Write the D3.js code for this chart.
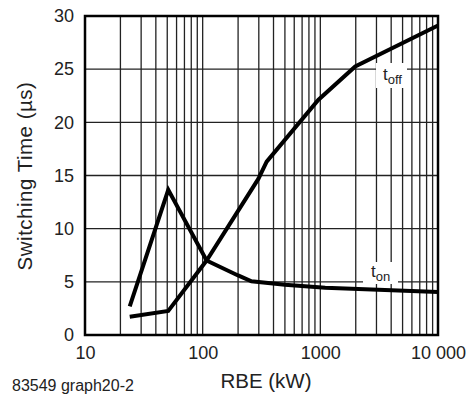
<!DOCTYPE html>
<html lang="en">
<head>
  <meta charset="utf-8">
  <title>Switching Time vs RBE</title>
  <style>
    body { margin: 0; background: #fff; }
    svg text { font-family: 'Liberation Sans', Arial, Helvetica, sans-serif; fill: #222; }
    .grid line { stroke: #222; stroke-width: 1.3; }
    .curve { fill: none; stroke: #000; stroke-width: 4; stroke-linejoin: miter; }
  </style>
</head>
<body>
  <div id="chart"></div>
  <script src="https://d3js.org/d3.v7.min.js"></script>
  <script>
    // data
    var tonRbe   = [24, 51, 108, 200, 260, 500, 1100, 10000];
    var tonTime  = [2.7, 13.65, 7.0, 5.6, 5.05, 4.72, 4.45, 4.05];
    var toffRbe  = [24, 51, 108, 298, 350, 960, 1980, 10000];
    var toffTime = [1.72, 2.26, 7.0, 14.7, 16.3, 22.1, 25.25, 29.1];

    var xTickValues = [10, 100, 1000, 10000];
    var xTickLabels = ["10", "100", "1000", "10 000"];
    var yTickValues = [0, 5, 10, 15, 20, 25, 30];

    var width = 476, height = 397;
    var margin = { top: 16, right: 38, bottom: 62, left: 85 };

    var svg = d3.select("#chart")
      .append("svg")
      .attr("width", width)
      .attr("height", height);

    var x = d3.scaleLog()
      .domain([10, 10000])
      .range([margin.left, width - margin.right]);

    var y = d3.scaleLinear()
      .domain([0, 30])
      .range([height - margin.bottom, margin.top]);

    // grid lines: every 1..9 per decade, every 5 us
    var xGrid = [];
    [10, 100, 1000].forEach(function(dec) {
      for (var k = 2; k <= 9; k++) xGrid.push(dec * k);
    });
    xGrid.push(100, 1000);

    var grid = svg.append("g").attr("class", "grid");
    grid.selectAll(".vx")
      .data(xGrid)
      .enter().append("line")
      .attr("x1", function(d) { return x(d); })
      .attr("x2", function(d) { return x(d); })
      .attr("y1", y(0))
      .attr("y2", y(30));

    grid.selectAll(".hy")
      .data(yTickValues.slice(1, -1))
      .enter().append("line")
      .attr("x1", x(10))
      .attr("x2", x(10000))
      .attr("y1", function(d) { return y(d); })
      .attr("y2", function(d) { return y(d); });

    // white boxes behind the curve labels
    svg.append("rect")
      .attr("x", 376).attr("y", 63).attr("width", 31).attr("height", 25)
      .attr("fill", "#fff");
    svg.append("rect")
      .attr("x", 363).attr("y", 262).attr("width", 35).attr("height", 22)
      .attr("fill", "#fff");

    // frame
    svg.append("rect")
      .attr("x", x(10))
      .attr("y", y(30))
      .attr("width", x(10000) - x(10))
      .attr("height", y(0) - y(30))
      .attr("fill", "none")
      .attr("stroke", "#000")
      .attr("stroke-width", 2.5);

    // curves
    var line = d3.line()
      .x(function(d) { return x(d[0]); })
      .y(function(d) { return y(d[1]); });

    svg.append("path")
      .attr("class", "curve")
      .attr("d", line(d3.zip(tonRbe, tonTime)));

    svg.append("path")
      .attr("class", "curve")
      .attr("d", line(d3.zip(toffRbe, toffTime)));

    // axes (labels only)
    var xAxis = svg.append("g")
      .attr("transform", "translate(0," + y(0) + ")")
      .call(d3.axisBottom(x)
        .tickValues(xTickValues)
        .tickFormat(function(d, i) { return xTickLabels[i]; })
        .tickSize(0)
        .tickPadding(11));
    xAxis.select(".domain").remove();
    xAxis.selectAll("text").style("font-size", "18px").attr("fill", "#222");

    var yAxis = svg.append("g")
      .attr("transform", "translate(" + x(10) + ",0)")
      .call(d3.axisLeft(y)
        .tickValues(yTickValues)
        .tickSize(0)
        .tickPadding(11));
    yAxis.select(".domain").remove();
    yAxis.selectAll("text").style("font-size", "18px").attr("fill", "#222");

    // curve labels
    var toff = svg.append("text").attr("x", 383).attr("y", 80).style("font-size", "17px");
    toff.append("tspan").text("t");
    toff.append("tspan").attr("dy", 4).style("font-size", "13px").text("off");

    var ton = svg.append("text").attr("x", 371).attr("y", 277).style("font-size", "17px");
    ton.append("tspan").text("t");
    ton.append("tspan").attr("dy", 4).style("font-size", "13px").text("on");

    // titles
    svg.append("text")
      .attr("x", 266)
      .attr("y", 388)
      .attr("text-anchor", "middle")
      .style("font-size", "20.5px")
      .text("RBE (kW)");

    svg.append("text")
      .attr("transform", "translate(32,176) rotate(-90)")
      .attr("text-anchor", "middle")
      .style("font-size", "20.5px")
      .style("letter-spacing", "0.5px")
      .text("Switching Time (µs)");

    svg.append("text")
      .attr("x", 12)
      .attr("y", 391)
      .style("font-size", "16px")
      .text("83549 graph20-2");
  </script>
</body>
</html>
